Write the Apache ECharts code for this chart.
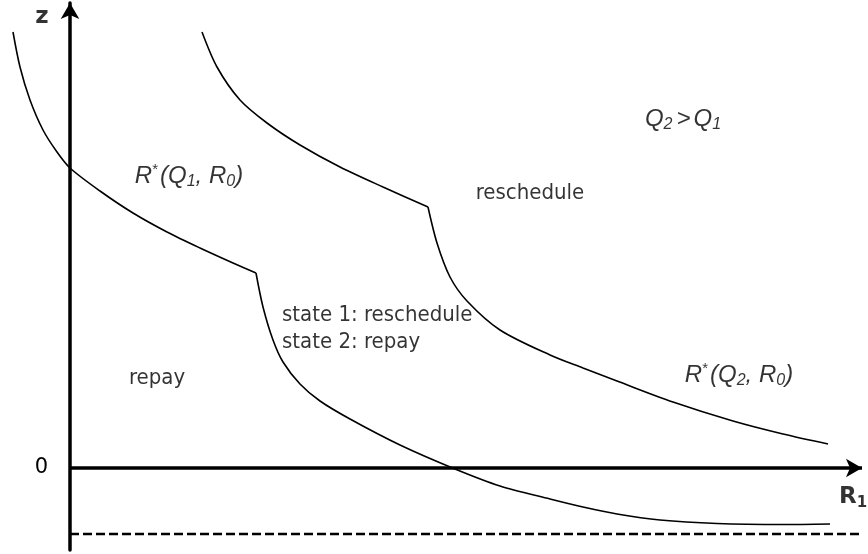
<!DOCTYPE html>
<html>
<head>
<meta charset="utf-8">
<script src="https://cdn.jsdelivr.net/npm/echarts@6/dist/echarts.min.js"></script>
<style>
html,body{margin:0;padding:0;background:#fff;}
#main{width:868px;height:554px;}
</style>
</head>
<body>
<div id="main"></div>
<script>
// Curve R*(Q1, R0): [R1, z]; kinkQ1 is the index of the corner point
var curveQ1 = [
  [-57,436],[-50,401],[-40,368],[-27,338],[-13,316],[0,300],[30,277],
  [63,255],[97,236],[130,220],[163,205],[186,195],
  [193,161],[203,128],[213,106],[230,84],[250,67],[280,49],[330,23],[385,-1],
  [430,-18],[480,-31],[513,-39],[547,-46],[590,-52],[647,-55.5],[713,-56.5],[760,-56]
];
var kinkQ1 = 11;
// Curve R*(Q2, R0)
var curveQ2 = [
  [132,436],[147,401],[170,368],[197,345],[230,323],[270,301],[313,281],[358,261],
  [367,225],[380,191],[397,167],[430,138],[480,113],[513,100],[547,87],[603,66],
  [663,47],[713,34],[758,24]
];
var kinkQ2 = 7;
// Lower bound (dashed)
var lowerBound = -66;
var boundRange = [0, 790];
// Axis ranges and tick labels
var xRange = [-60, 792];
var yRange = [-82, 465];
var yTickValues = [0];

// Annotations
var annNames = ['rq1','resch','qq','s1','s2','repay','rq2','z','r1'];
var annPos = [[119,292],[460,275],[613,349],[212,153],[212,126],[87,90],[669,93],[-28,451],[783,-29]];
var annText = [
  '{i|R}{sup|*}{i|(Q}{sub|1}{i|, R}{sub|0}{i|)}',
  '{t|reschedule}',
  '{i|Q}{sub|2}{gt|>}{i|Q}{sub|1}',
  '{t|state 1: reschedule}',
  '{t|state 2: repay}',
  '{t|repay}',
  '{i|R}{sup|*}{i|(Q}{sub|2}{i|, R}{sub|0}{i|)}',
  '{b|z}',
  '{b|R}{bs|1}'
];
var annAlign = ['center','center','center','left','left','center','center','center','center'];

var rich = {
  t: {fontFamily: '"DejaVu Sans Condensed","DejaVu Sans",sans-serif', fontSize: 22, color: '#000', lineHeight: 28},
  i: {fontFamily: '"Liberation Sans",Arial,sans-serif', fontStyle: 'italic', fontSize: 24, color: '#000', lineHeight: 28},
  gt: {fontFamily: '"Liberation Sans",Arial,sans-serif', fontStyle: 'italic', fontSize: 24, color: '#000', lineHeight: 28, padding: [0, 3, 0, 4]},
  sub: {fontFamily: '"Liberation Sans",Arial,sans-serif', fontStyle: 'italic', fontSize: 16, color: '#000', lineHeight: 15, verticalAlign: 'bottom'},
  sup: {fontFamily: '"Liberation Sans",Arial,sans-serif', fontSize: 15, color: '#000', lineHeight: 15, verticalAlign: 'top', padding: [0, 2, 0, 0]},
  b: {fontFamily: '"DejaVu Sans",sans-serif', fontWeight: 'bold', fontSize: 23, color: '#000', lineHeight: 28},
  bs: {fontFamily: '"DejaVu Sans",sans-serif', fontWeight: 'bold', fontSize: 15, color: '#000', lineHeight: 15, verticalAlign: 'bottom'}
};

var annData = annPos.map(function (p, k) {
  return {
    name: annNames[k],
    value: p,
    label: {show: true, formatter: annText[k], align: annAlign[k], verticalAlign: 'middle',
            position: 'inside', color: '#000', rich: rich}
  };
});

function curveSeries(pts) {
  return {
    type: 'line', data: pts, showSymbol: false, smooth: 0.3,
    lineStyle: {color: '#000', width: 1.6}, silent: true
  };
}

var chart = echarts.init(document.getElementById('main'));
chart.setOption({
  animation: false,
  backgroundColor: '#fff',
  grid: {left: 10, right: 6, top: 3, bottom: 4, containLabel: false, outerBoundsMode: 'none'},
  xAxis: {
    type: 'value', min: xRange[0], max: xRange[1],
    axisLine: {show: false},
    axisTick: {show: false}, axisLabel: {show: false}, splitLine: {show: false}
  },
  yAxis: {
    type: 'value', min: yRange[0], max: yRange[1],
    axisLine: {onZero: true, lineStyle: {color: '#000', width: 3.5}, symbol: ['none', 'arrow'], symbolSize: [14, 16]},
    axisTick: {show: false},
    axisLabel: {customValues: yTickValues, margin: -38, color: '#000', fontSize: 21, fontFamily: '"DejaVu Sans",sans-serif'},
    splitLine: {show: false}
  },
  series: [
    curveSeries(curveQ1.slice(0, kinkQ1 + 1)),
    curveSeries(curveQ1.slice(kinkQ1)),
    curveSeries(curveQ2.slice(0, kinkQ2 + 1)),
    curveSeries(curveQ2.slice(kinkQ2)),
    {
      type: 'line', data: [[boundRange[0], lowerBound], [boundRange[1], lowerBound]],
      showSymbol: false, silent: true,
      lineStyle: {color: '#000', width: 2.5, type: [9, 4]},
      markLine: {
        silent: true, animation: false,
        symbol: ['none', 'arrow'], symbolSize: [14, 16],
        label: {show: false},
        lineStyle: {color: '#000', width: 3.5, type: 'solid'},
        data: [[{coord: [0, 0]}, {coord: [xRange[1], 0]}]]
      }
    },
    {
      type: 'scatter', data: annData, symbolSize: 1, silent: true,
      itemStyle: {color: 'rgba(0,0,0,0)'}
    }
  ]
});
</script>
</body>
</html>
